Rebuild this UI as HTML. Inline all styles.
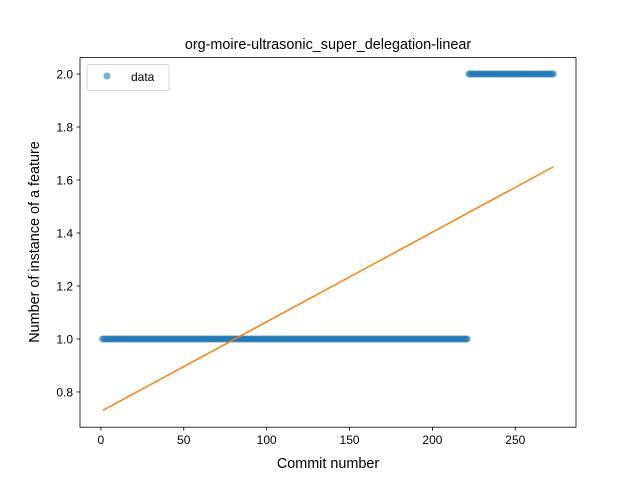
<!DOCTYPE html>
<html><head><meta charset="utf-8"><style>
body{margin:0;background:#fff}
svg text{font-family:"Liberation Sans","DejaVu Sans",sans-serif;fill:#000}
</style></head><body>
<svg id="chart" width="640" height="480" xmlns="http://www.w3.org/2000/svg">
<rect width="640" height="480" fill="#fff"/>
<text x="328" y="49" font-size="14.4" text-anchor="middle">org-moire-ultrasonic_super_delegation-linear</text>
<g id="marks"></g>
<rect x="80" y="57.6" width="496" height="369.6" fill="none" stroke="#000" stroke-width="0.8"/>
<g id="axes"></g>
<text x="328" y="468" font-size="14.4" text-anchor="middle">Commit number</text>
<text transform="translate(39,242) rotate(-90)" font-size="14.4" text-anchor="middle">Number of instance of a feature</text>
<g>
<rect x="87" y="64.6" width="82" height="26" rx="2" fill="#fff" fill-opacity="0.8" stroke="#ccc" stroke-width="0.8"/>
<circle cx="107" cy="76" r="3.5" fill="#1f77b4" fill-opacity="0.6"/>
<text x="131" y="81" font-size="12">data</text>
</g>
</svg>
<script>
const runStarts=[1,222];
const runEnds=[221,273];
const runValues=[1,2];
const fitX=[1,273];
const fitY=[0.73,1.65];
const xTicks=[0,50,100,150,200,250];
const yTicks=[0.8,1.0,1.2,1.4,1.6,1.8,2.0];
const yTickLabels=["0.8","1.0","1.2","1.4","1.6","1.8","2.0"];
const X0=80,X1=576,Y0=57.6,Y1=427.2;
const xmin=-12.6,xmax=286.6,ymin=0.667,ymax=2.062;
const sx=v=>X0+(v-xmin)/(xmax-xmin)*(X1-X0);
const sy=v=>Y1-(v-ymin)/(ymax-ymin)*(Y1-Y0);
const NS="http://www.w3.org/2000/svg";
const marks=document.getElementById('marks');
const axes=document.getElementById('axes');
for(let r=0;r<runStarts.length;r++){
  for(let x=runStarts[r];x<=runEnds[r];x++){
    const c=document.createElementNS(NS,'circle');
    c.setAttribute('cx',sx(x));c.setAttribute('cy',sy(runValues[r]));c.setAttribute('r',3.5);
    c.setAttribute('fill','#1f77b4');c.setAttribute('fill-opacity','0.6');
    
    
    marks.appendChild(c);
  }
}
const l=document.createElementNS(NS,'line');
l.setAttribute('x1',sx(fitX[0]));l.setAttribute('y1',sy(fitY[0]));
l.setAttribute('x2',sx(fitX[1]));l.setAttribute('y2',sy(fitY[1]));
l.setAttribute('stroke','#ff7f0e');l.setAttribute('stroke-width','1.5');


marks.appendChild(l);
xTicks.forEach(t=>{
  const k=document.createElementNS(NS,'line');
  k.setAttribute('x1',sx(t));k.setAttribute('x2',sx(t));k.setAttribute('y1',Y1);k.setAttribute('y2',Y1+3.5);
  k.setAttribute('stroke','#000');k.setAttribute('stroke-width','0.8');
  
  
  axes.appendChild(k);
  const tx=document.createElementNS(NS,'text');
  tx.setAttribute('x',sx(t));tx.setAttribute('y',Y1+17);tx.setAttribute('font-size','12');tx.setAttribute('text-anchor','middle');
  tx.textContent=String(t);
  
  
  axes.appendChild(tx);
});
yTicks.forEach((t,i)=>{
  const k=document.createElementNS(NS,'line');
  k.setAttribute('x1',X0-3.5);k.setAttribute('x2',X0);k.setAttribute('y1',sy(t));k.setAttribute('y2',sy(t));
  k.setAttribute('stroke','#000');k.setAttribute('stroke-width','0.8');
  
  
  axes.appendChild(k);
  const tx=document.createElementNS(NS,'text');
  tx.setAttribute('x',X0-7);tx.setAttribute('y',sy(t)+4.3);tx.setAttribute('font-size','12');tx.setAttribute('text-anchor','end');
  tx.textContent=yTickLabels[i];
  
  
  axes.appendChild(tx);
});
</script>
</body></html>
